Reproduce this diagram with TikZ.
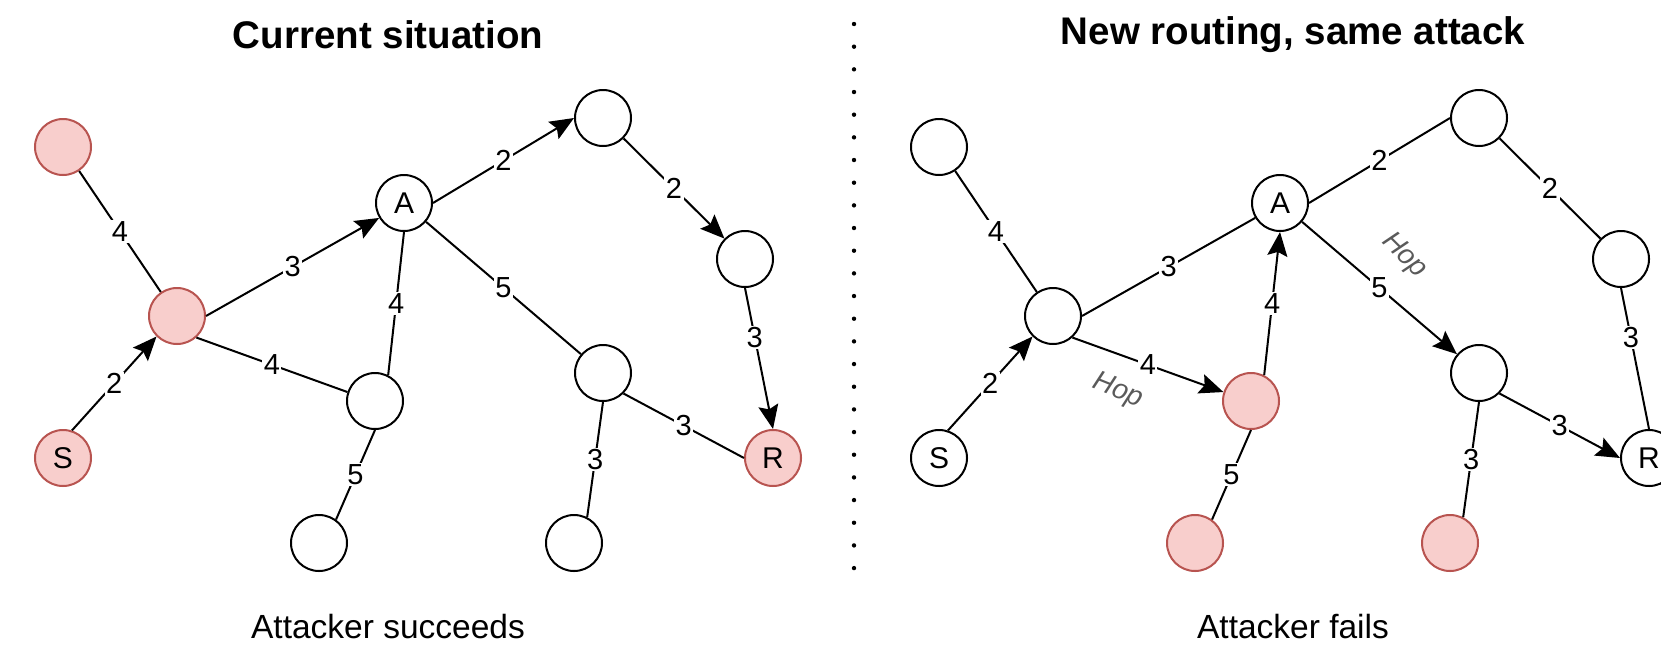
\documentclass[tikz,border=0pt]{standalone}
\usepackage{fontspec}
\setmainfont{Liberation Sans}
\usetikzlibrary{arrows.meta}
\definecolor{redfill}{HTML}{F8CECC}
\definecolor{redline}{HTML}{B85450}
\definecolor{hopgrey}{HTML}{5A5A5A}
\tikzset{
  vtx/.style={circle,draw=black,line width=2pt,minimum size=56pt,inner sep=0pt,fill=white,
    font=\fontsize{30}{34}\selectfont},
  bad/.style={vtx,draw=redline,fill=redfill},
  edge/.style={line width=2pt,draw=black},
  arr/.style={edge,-{Stealth[length=24pt,width=20pt,inset=4pt]}},
  wlabel/.style={fill=white,inner sep=1.5pt,font=\fontsize{29}{33}\selectfont},
  hoplabel/.style={font=\fontsize{28}{32}\selectfont\itshape,text=hopgrey,inner sep=0pt},
  ttl/.style={font=\fontsize{38.5}{44}\selectfont\bfseries},
  capt/.style={font=\fontsize{33.5}{38}\selectfont},
  sepdot/.style={fill=black}
}
\begin{document}
\begin{tikzpicture}[x=1pt,y=-1pt]
\clip (0,0) rectangle (1661,646);
\fill[white] (0,0) rectangle (1661,646);

% ---------- titles ----------
\node[ttl] (t1) at (388,35) {Current situation};
\node[ttl] (t2) at (1293,35) {New routing, same attack};

% ---------- separator ----------
\foreach \i in {0,...,24}{
  \fill[sepdot] (854,{24+22.67*\i}) circle (2.2pt);
}

% ---------- left graph ----------
\node[bad] (TL) at (63,147) {};
\node[bad] (N1) at (177,316) {};
\node[bad] (S)  at (63,458) {S};
\node[vtx] (A)  at (404,203) {A};
\node[vtx] (T)  at (603,118) {};
\node[vtx] (RU) at (745,259) {};
\node[vtx] (B)  at (375,401) {};
\node[vtx] (C)  at (603,373) {};
\node[vtx] (D)  at (319,543) {};
\node[vtx] (E)  at (574,543) {};
\node[bad] (R)  at (773,458) {R};

\draw[edge] (TL) -- node[wlabel] {4} (N1);
\draw[arr] (S.72) -- node[wlabel] {2} (N1.225);
\draw[arr] (N1.east) -- node[wlabel] {3} (A.211);
\draw[arr] (A.east) -- node[wlabel] {2} (T.west);
\draw[arr] (T) -- node[wlabel] {2} (RU);
\draw[arr] (RU.south) -- node[wlabel,pos=0.35] {3} (R.north);
\draw[edge] (N1.-48) -- node[wlabel] {4} (B.162);
\draw[edge] (A.south) -- node[wlabel] {4} (B.63);
\draw[edge] (A) -- node[wlabel] {5} (C);
\draw[edge] (B.south) -- node[wlabel] {5} (D.54);
\draw[edge] (C.south) -- node[wlabel] {3} (E.63);
\draw[edge] (C.south east) -- node[wlabel] {3} (R.west);

\node[capt] (c1) at (388,627) {Attacker succeeds};

% ---------- right graph ----------
\node[vtx] (TLb) at (939,147) {};
\node[vtx] (N1b) at (1053,316) {};
\node[vtx] (Sb)  at (939,458) {S};
\node[vtx] (Ab)  at (1280,203) {A};
\node[vtx] (Tb)  at (1479,118) {};
\node[vtx] (RUb) at (1621,259) {};
\node[bad] (Bb)  at (1251,401) {};
\node[vtx] (Cb)  at (1479,373) {};
\node[bad] (Db)  at (1195,543) {};
\node[bad] (Eb)  at (1450,543) {};
\node[vtx] (Rb)  at (1649,458) {R};

\draw[edge] (TLb) -- node[wlabel] {4} (N1b);
\draw[arr] (Sb.72) -- node[wlabel] {2} (N1b.225);
\draw[edge] (N1b.east) -- node[wlabel] {3} (Ab.211);
\draw[edge] (Ab.east) -- node[wlabel] {2} (Tb.west);
\draw[edge] (Tb) -- node[wlabel] {2} (RUb);
\draw[edge] (RUb.south) -- node[wlabel,pos=0.35] {3} (Rb.north);
\draw[arr] (N1b.-48) -- node[wlabel] {4} (Bb.162);
\draw[arr] (Bb.63) -- node[wlabel] {4} (Ab.south);
\draw[arr] (Ab) -- node[wlabel] {5} (Cb);
\draw[edge] (Bb.south) -- node[wlabel] {5} (Db.54);
\draw[edge] (Cb.south) -- node[wlabel] {3} (Eb.63);
\draw[arr] (Cb.south east) -- node[wlabel] {3} (Rb.west);

\node[hoplabel,rotate=-22] (hop1) at (1118,391) {Hop};
\node[hoplabel,rotate=-45] (hop2) at (1404,256) {Hop};

\node[capt] (c2) at (1293,627) {Attacker fails};
\end{tikzpicture}
\end{document}
